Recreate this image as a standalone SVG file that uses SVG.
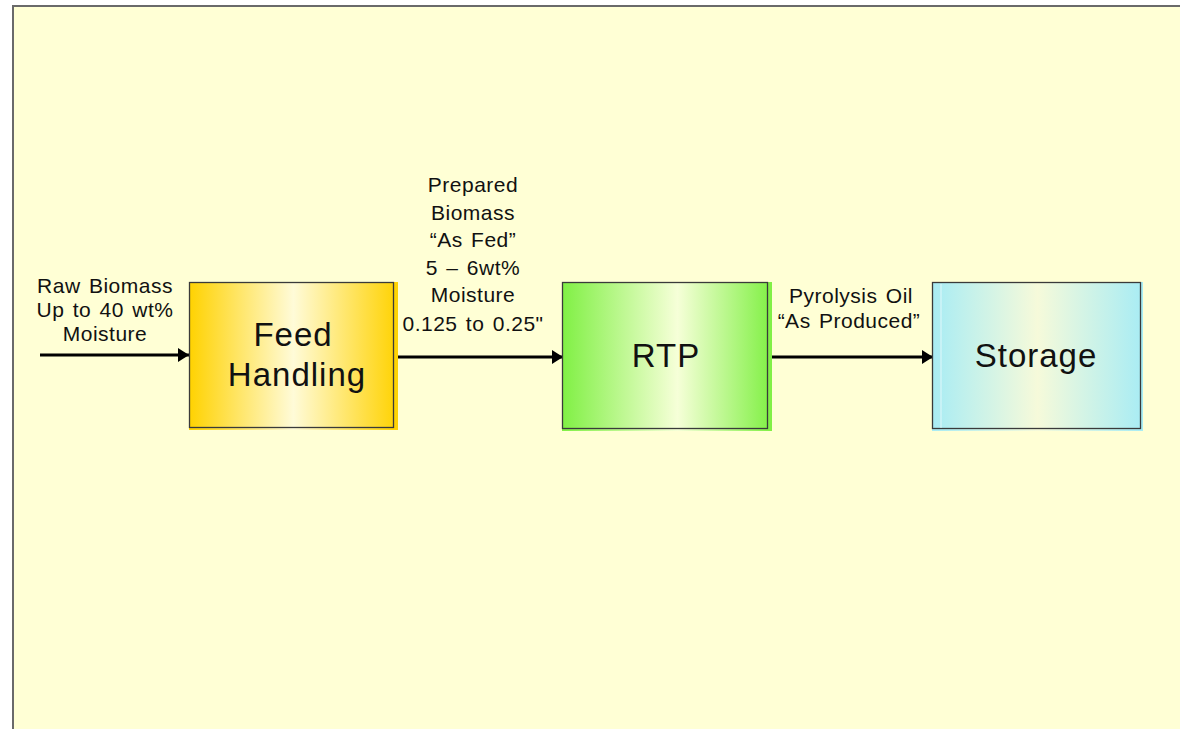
<svg xmlns="http://www.w3.org/2000/svg" width="1180" height="729" viewBox="0 0 1180 729">
<defs>
<linearGradient id="gFeed" x1="0" y1="0" x2="1" y2="0">
<stop offset="0" stop-color="#FFD200"/>
<stop offset="0.5" stop-color="#FFFBD8"/>
<stop offset="1" stop-color="#FFD200"/>
</linearGradient>
<linearGradient id="gRtp" x1="0" y1="0" x2="1" y2="0">
<stop offset="0" stop-color="#80F044"/>
<stop offset="0.55" stop-color="#F6FFD8"/>
<stop offset="1" stop-color="#80F044"/>
</linearGradient>
<linearGradient id="gSto" x1="0" y1="0" x2="1" y2="0">
<stop offset="0" stop-color="#A8ECF4"/>
<stop offset="0.5" stop-color="#F6FADA"/>
<stop offset="1" stop-color="#A8ECF4"/>
</linearGradient>
<marker id="ah" markerWidth="11" markerHeight="14" refX="11" refY="7" orient="auto" markerUnits="userSpaceOnUse">
<path d="M0,0 L11,7 L0,14 Z" fill="#000"/>
</marker>
</defs>
<style>
.box{stroke:#3a3a3a;stroke-width:1.3;fill:none}
.big{font-family:"Liberation Sans",Arial,sans-serif;font-size:33px;letter-spacing:1px;fill:#111;text-anchor:middle}
.lbl{font-family:"Liberation Sans",Arial,sans-serif;font-size:21px;letter-spacing:0.5px;word-spacing:2px;fill:#111;text-anchor:middle}
.conn{stroke:#000;stroke-width:3;fill:none}
</style>
<rect x="0" y="0" width="1180" height="729" fill="#FFFFFF"/>
<rect x="13" y="6" width="1170" height="730" fill="#FFFFD5" stroke="#6a6a6a" stroke-width="2"/>

<g id="connectors">
<line class="conn" x1="40" y1="355" x2="189" y2="355" marker-end="url(#ah)"/>
<line class="conn" x1="398" y1="357" x2="563" y2="357" marker-end="url(#ah)"/>
<line class="conn" x1="771" y1="357" x2="933" y2="357" marker-end="url(#ah)"/>
</g>

<g id="label-raw">
<text class="lbl" x="105" y="293">Raw Biomass</text>
<text class="lbl" x="105" y="317">Up to 40 wt%</text>
<text class="lbl" x="105" y="341">Moisture</text>
</g>

<g id="node-feed">
<rect x="189" y="282" width="209" height="148" fill="url(#gFeed)"/>
<rect class="box" x="189.5" y="282.5" width="204" height="145"/>
<text class="big" x="293" y="346">Feed</text>
<text class="big" x="297" y="386">Handling</text>
</g>

<g id="label-prepared">
<text class="lbl" x="473" y="192">Prepared</text>
<text class="lbl" x="473" y="220">Biomass</text>
<text class="lbl" x="473" y="247">“As Fed”</text>
<text class="lbl" x="473" y="275">5 – 6wt%</text>
<text class="lbl" x="473" y="302">Moisture</text>
<text class="lbl" x="473" y="331">0.125 to 0.25"</text>
</g>

<g id="node-rtp">
<rect x="562" y="282" width="210" height="149" fill="url(#gRtp)"/>
<rect class="box" x="562.5" y="282.5" width="205" height="146"/>
<text class="big" x="666" y="367">RTP</text>
</g>

<g id="label-oil">
<text class="lbl" x="851" y="303">Pyrolysis Oil</text>
<text class="lbl" x="849" y="328">“As Produced”</text>
</g>

<g id="node-storage">
<rect x="932" y="282" width="211" height="149" fill="url(#gSto)"/>
<rect class="box" x="932.5" y="282.5" width="208" height="146"/>
<line x1="941" y1="284" x2="941" y2="428" stroke="#ffffff" stroke-width="0.8" opacity="0.8"/>
<text class="big" x="1036" y="367">Storage</text>
</g>
</svg>
